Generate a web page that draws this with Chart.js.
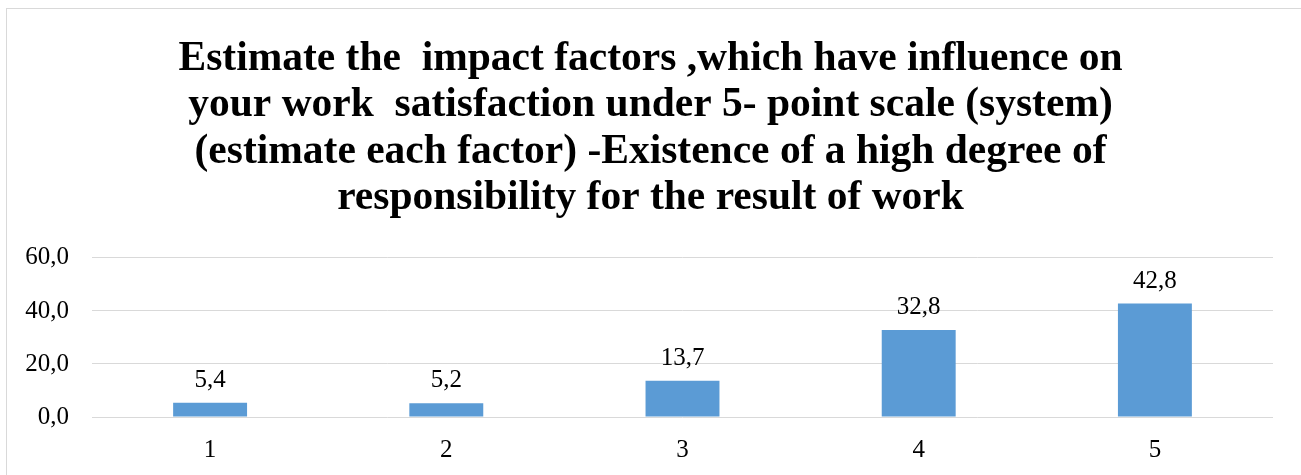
<!DOCTYPE html>
<html>
<head>
<meta charset="utf-8">
<script src="https://cdn.jsdelivr.net/npm/chart.js@4"></script>
<style>
  html, body { margin: 0; padding: 0; background: #fff; overflow: hidden; }
  #wrap { position: relative; width: 1301px; height: 475px; }
</style>
</head>
<body>
<div id="wrap"><canvas id="c" width="1301" height="475"></canvas></div>
<script>
const titleLines = [
  'Estimate the  impact factors ,which have influence on',
  'your work  satisfaction under 5- point scale (system)',
  '(estimate each factor) -Existence of a high degree of',
  'responsibility for the result of work'
];
const categories = ['1', '2', '3', '4', '5'];
const values = [5.4, 5.2, 13.7, 32.8, 42.8];
const yMin = 0, yMax = 60, yStep = 20;

const fmt = v => Number(v).toFixed(1).replace('.', ',');
const FONT = "'Liberation Serif', 'Times New Roman', serif";

const frame = {
  id: 'frame',
  beforeDraw(chart) {
    const ctx = chart.ctx;
    ctx.save();
    ctx.fillStyle = '#fff';
    ctx.fillRect(0, 0, chart.width, chart.height);
    ctx.strokeStyle = '#d9d9d9';
    ctx.lineWidth = 1;
    ctx.strokeRect(6.5, 8.5, 3000, 3000);
    ctx.restore();
  }
};

const dataLabels = {
  id: 'dataLabels',
  afterDatasetsDraw(chart) {
    const ctx = chart.ctx;
    const meta = chart.getDatasetMeta(0);
    ctx.save();
    ctx.font = '25px ' + FONT;
    ctx.fillStyle = '#000';
    ctx.textAlign = 'center';
    ctx.textBaseline = 'alphabetic';
    meta.data.forEach((bar, i) => {
      ctx.fillText(fmt(chart.data.datasets[0].data[i]), bar.x, bar.y - 16);
    });
    ctx.restore();
  }
};

new Chart(document.getElementById('c'), {
  type: 'bar',
  data: {
    labels: categories,
    datasets: [{
      data: values,
      backgroundColor: '#5B9BD5',
      borderWidth: 0,
      categoryPercentage: 1,
      barPercentage: 0.313,
      yAxisID: 'y'
    }]
  },
  options: {
    responsive: false,
    animation: false,
    events: [],
    layout: { padding: 0 },
    plugins: {
      legend: { display: false },
      tooltip: { enabled: false },
      title: {
        display: true,
        text: titleLines,
        color: '#000',
        font: { family: FONT, size: 41.5, weight: 'bold', lineHeight: 1.12 },
        padding: { top: 36, bottom: 36 }
      }
    },
    scales: {
      x: {
        grid: { display: false, drawTicks: false },
        border: { display: false },
        ticks: { color: '#000', font: { family: FONT, size: 25 }, padding: 18 },
        afterFit(axis) { axis.height = 58; }
      },
      y: {
        position: 'left',
        min: yMin, max: yMax,
        grid: { color: '#d9d9d9', lineWidth: 1, drawTicks: false },
        border: { display: false },
        ticks: {
          stepSize: yStep,
          color: '#000',
          font: { family: FONT, size: 25 },
          padding: 23,
          callback: v => fmt(v)
        },
        afterFit(axis) { axis.width = 92; }
      },
      yRightSpace: {
        position: 'right',
        min: yMin, max: yMax,
        grid: { display: false, drawTicks: false },
        border: { display: false },
        ticks: { display: false },
        afterFit(axis) { axis.width = 28; }
      }
    }
  },
  plugins: [frame, dataLabels]
});
</script>
</body>
</html>
